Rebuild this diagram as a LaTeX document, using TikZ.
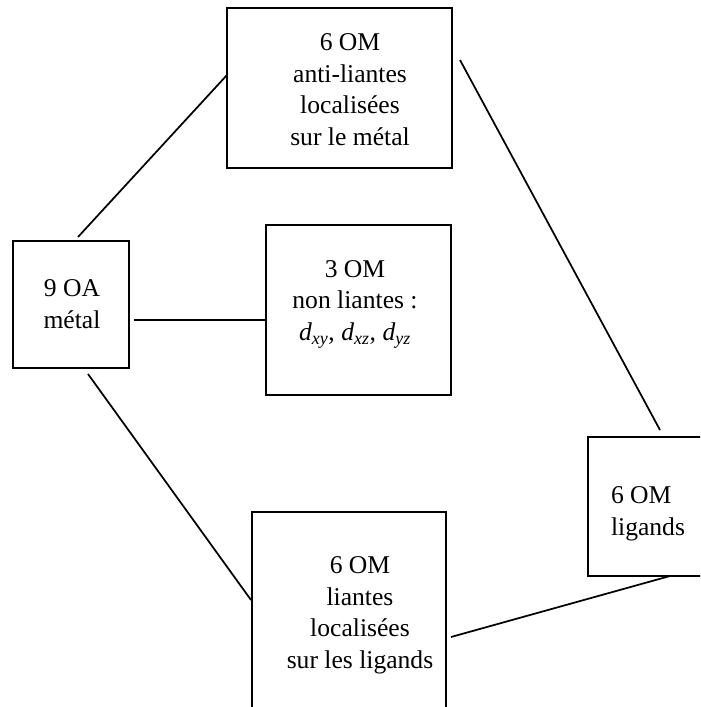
\documentclass[tikz,border=0pt]{standalone}
\usepackage{fontspec}
\setmainfont{Liberation Serif}
\begin{document}
\begin{tikzpicture}[x=0.75pt,y=-0.75pt,
  box/.style={draw, line width=1.5pt, inner sep=0pt},
  lbl/.style={align=center, anchor=base, inner sep=0pt, font=\fontsize{19.2}{23.6}\selectfont},
  link/.style={line width=1.3pt}]
\clip (0,0) rectangle (700,707);
\fill[white] (0,0) rectangle (700,707);
% boxes
\node[box, minimum width=168.75pt, minimum height=120pt] (top) at (339.5,88) {};
\node[box, minimum width=138.75pt, minimum height=127.5pt] (mid) at (358.5,310) {};
\node[box, minimum width=87pt, minimum height=95.25pt] (left) at (71,304.5) {};
\node[box, minimum width=90pt, minimum height=104.25pt] (right) at (648,506.5) {};
\node[box, minimum width=145.5pt, minimum height=156pt] (bot) at (349,616) {};
% texts (anchor = baseline of the last line)
\node[lbl] (ttop) at (350,145) {6 OM\\anti-liantes\\localisées\\sur le métal};
\node[lbl] (tmid) at (355,340) {3 OM\\non liantes :\\\textit{d}\textsubscript{\textit{xy}}, \textit{d}\textsubscript{\textit{xz}}, \textit{d}\textsubscript{\textit{yz}}};
\node[lbl] (tleft) at (72,328) {9 OA\\métal};
\node[lbl, align=left] (tright) at (648,535) {6 OM\\ligands};
\node[lbl] (tbot) at (360,668) {6 OM\\liantes\\localisées\\sur les ligands};
% connector ends
\coordinate (a1) at (78,237);  \coordinate (a2) at (227,75);
\coordinate (b1) at (134,320); \coordinate (b2) at (266,320);
\coordinate (c1) at (88,374);  \coordinate (c2) at (251,600);
\coordinate (d1) at (460,60);  \coordinate (d2) at (660,430);
\coordinate (e1) at (451,637); \coordinate (e2) at (670,576);
\draw[link] (a1) -- (a2);
\draw[link] (b1) -- (b2);
\draw[link] (c1) -- (c2);
\draw[link] (d1) -- (d2);
\draw[link] (e1) -- (e2);
\end{tikzpicture}
\end{document}
